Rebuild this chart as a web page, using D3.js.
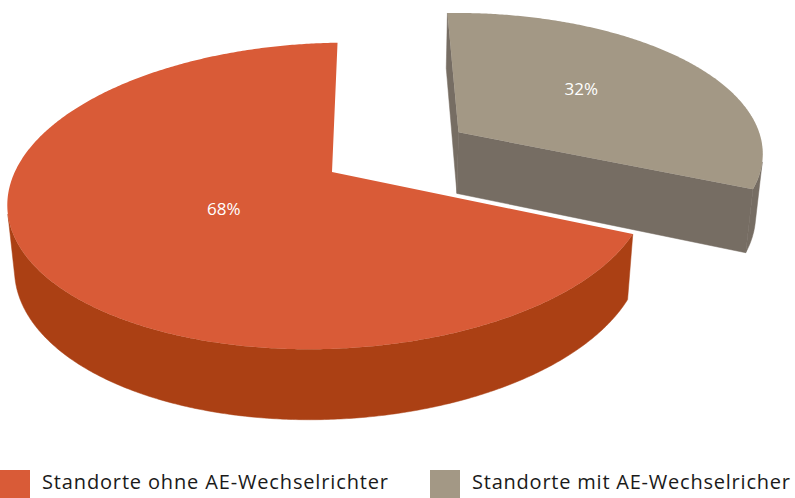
<!DOCTYPE html>
<html><head><meta charset="utf-8">
<script src="https://cdn.jsdelivr.net/npm/d3@7"></script>
<style>body{margin:0;background:#fff;overflow:hidden}</style>
</head><body>
<svg id="c" width="795" height="498"></svg>
<script>
// ---- data ----
const categories = ["Standorte ohne AE-Wechselrichter", "Standorte mit AE-Wechselricher"];
const values = [68, 32];
const valueLabels = ["68%", "32%"];
const topColors = ["#d95b37", "#a39885"];
const sideColors = ["#ab4014", "#766d63"];
const explode = [0, 0.4885];

// ---- layout / 3D view ----
const V = {ax: 332, cy: 172, k: 316, p: 0.1558, s: 0.4726, c: 0.8813, xc: 0.13, q: 0.01, shear: 0.018, h: 0.2309, wallMin: 0.2};
const D = V.c / V.p;
const cam = [V.xc, D * V.s, D * V.c];
const labelPos = [[0.49, 0.395], [0.47, 0.545]]; // [fraction of sweep, radius]

function proj(X, Y, Z) {
  const v = Y * V.c - Z * V.s;
  const dr = 1 - (Y * V.s + Z * V.c) / D + V.q * X;
  const sx = V.ax + V.k * V.xc + V.k * (X - V.xc) / dr;
  const sy = V.cy - V.k * v / dr;
  return [sx, sy - V.shear * (sx - V.ax)];
}
const dir = a => [Math.sin(a), -Math.cos(a)];

const svg = d3.select("#c");
const line = d3.line();
const total = d3.sum(values);
const start = 2 * Math.PI * values[1] / total;
const pie = d3.pie().sort(null).startAngle(start).endAngle(start + 2 * Math.PI);
const arcs = pie(values);
const path = pts => line(pts) + "Z";

function drawSlice(d, i) {
  const md = (d.startAngle + d.endAngle) / 2;
  const [ox, oz] = dir(md).map(t => t * explode[i]);
  const g = svg.append("g");
  const a0 = d.startAngle, a1 = d.endAngle;
  const n = Math.max(2, Math.ceil((a1 - a0) / (Math.PI / 360)));
  const angles = d3.range(n + 1).map(j => a0 + (a1 - a0) * j / n);
  const pt = (a, y) => { const [dx, dz] = dir(a); return proj(ox + dx, y, oz + dz); };
  const C = y => proj(ox, y, oz);
  const toCam = [cam[0] - ox, cam[1], cam[2] - oz];
  const walls = [
    {a: a0, nrm: [-Math.cos(a0), -Math.sin(a0)]},
    {a: a1, nrm: [Math.cos(a1), Math.sin(a1)]}
  ];
  walls.forEach(w => {
    if (w.nrm[0] * toCam[0] + w.nrm[1] * toCam[2] > V.wallMin) {
      g.append("path").attr("d", path([C(0), pt(w.a, 0), pt(w.a, -V.h), C(-V.h)]))
        .attr("fill", sideColors[i]).attr("stroke", sideColors[i]).attr("stroke-width", 0.5);
    }
  });
  const vis = angles.map(a => {
    const [dx, dz] = dir(a);
    return dx * (cam[0] - ox - dx) + dz * (cam[2] - oz - dz) > 0;
  });
  let run = [];
  const flush = () => {
    if (run.length > 1) {
      const topPts = run.map(a => pt(a, 0));
      const botPts = run.map(a => pt(a, -V.h)).reverse();
      g.append("path").attr("d", path(topPts.concat(botPts)))
        .attr("fill", sideColors[i]).attr("stroke", sideColors[i]).attr("stroke-width", 0.5);
    }
    run = [];
  };
  angles.forEach((a, j) => { if (vis[j]) run.push(a); else flush(); });
  flush();
  g.append("path").attr("d", path([C(0)].concat(angles.map(a => pt(a, 0)))))
    .attr("fill", topColors[i]);
  const la = a0 + (a1 - a0) * labelPos[i][0];
  const [lx, lz] = dir(la).map(t => t * labelPos[i][1]);
  const lp = proj(ox + lx, 0, oz + lz);
  g.append("text").attr("x", lp[0]).attr("y", lp[1]).attr("dy", "0.36em")
    .attr("text-anchor", "middle").attr("fill", "#ffffff")
    .style("font-family", "'Open Sans', sans-serif").style("font-size", "17px")
    .text(valueLabels[i]);
}
[1, 0].forEach(i => drawSlice(arcs[i], i));

const legendX = [0, 430];
const legendW = [346, 318];
const legend = svg.append("g");
categories.forEach((name, i) => {
  legend.append("rect").attr("x", legendX[i]).attr("y", 470).attr("width", 30).attr("height", 30)
    .attr("fill", topColors[i]);
  legend.append("text").attr("x", legendX[i] + 42).attr("y", 489)
    .attr("fill", "#1a1a1a").attr("textLength", legendW[i])
    .style("font-family", "'Open Sans', sans-serif").style("font-size", "20px")
    .text(name);
});
</script>
</body></html>
